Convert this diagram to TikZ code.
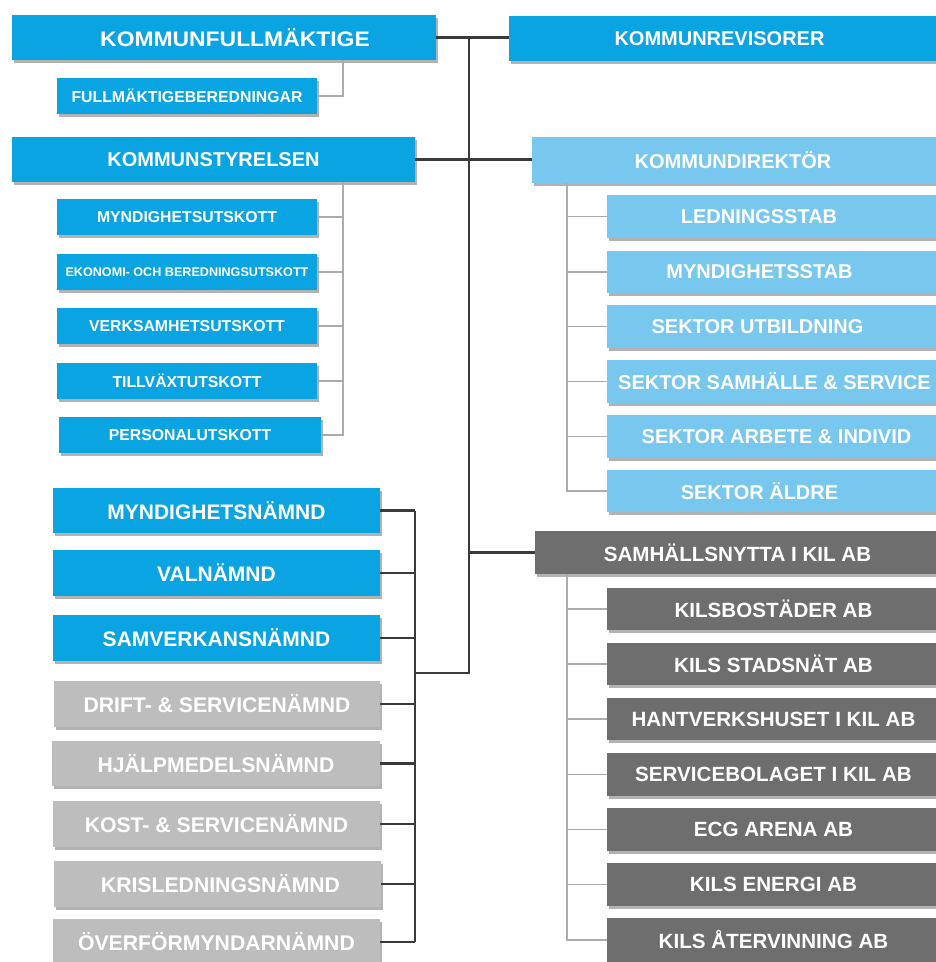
\documentclass[tikz,border=0pt]{standalone}
\usepackage{fontspec}
\setmainfont{Liberation Sans}
\usetikzlibrary{shadows}
\definecolor{cblue}{HTML}{0AA4E2}
\definecolor{clblue}{HTML}{78C7EE}
\definecolor{cdgray}{HTML}{6E6E6E}
\definecolor{clgray}{HTML}{BDBDBD}
\definecolor{cline}{HTML}{3A3A3A}
\definecolor{csub}{HTML}{ABABAB}
\tikzset{
  box/.style={inner sep=0pt, outer sep=0pt, text=white, align=center,
    font=\bfseries\fontsize{20}{20}\selectfont,
    drop shadow={shadow xshift=2pt, shadow yshift=-2.5pt, opacity=0.3, fill=black}},
  bblue/.style={box, fill=cblue},
  blight/.style={box, fill=clblue},
  bdark/.style={box, fill=cdgray, font=\bfseries\fontsize{20.6}{20.6}\selectfont},
  bgray/.style={box, fill=clgray, font=\bfseries\fontsize{21.2}{21.2}\selectfont},
  big/.style={font=\bfseries\fontsize{21}{21}\selectfont},
  small/.style={font=\bfseries\fontsize{15.8}{15.8}\selectfont},
  tiny/.style={font=\bfseries\fontsize{12.6}{12.6}\selectfont},
  mainline/.style={draw=cline, line width=2.4pt},
  subline/.style={draw=csub, line width=1.6pt},
}
% shift text left (#1 negative) or right (#1 positive) by half of |#1|
\newcommand{\tl}[2]{#2\hspace*{#1pt}}
\newcommand{\tr}[2]{\hspace*{#1pt}#2}
\newcommand{\bx}[7]{\node[#2, minimum width={#5-#3}, minimum height={#6-#4}] (#1) at ({(#3+#5)/2},{(#4+#6)/2}) {#7};}
\begin{document}
\begin{tikzpicture}[x=1pt,y=-1pt]
\useasboundingbox[fill=white] (0,0) rectangle (936,962);
% coordinates for trunks
\coordinate (trk) at (469,0);
\coordinate (lk) at (343,0);
\coordinate (rk) at (567,0);
\coordinate (nj) at (415,673);
% left column
\bx{kf}{bblue,big}{12}{15}{436}{60}{\tr{22}{\scalebox{1.09}[1]{KOMMUNFULLMÄKTIGE}}}
\bx{fb}{bblue,small}{57}{78}{317}{114}{FULLMÄKTIGEBEREDNINGAR}
\bx{ks}{bblue}{12}{137}{415}{182}{KOMMUNSTYRELSEN}
\bx{mu}{bblue,small}{57}{199}{317}{235}{MYNDIGHETSUTSKOTT}
\bx{eb}{bblue,tiny}{57}{254}{317}{290}{EKONOMI- OCH BEREDNINGSUTSKOTT}
\bx{vu}{bblue,small}{57}{308}{317}{344}{VERKSAMHETSUTSKOTT}
\bx{tu}{bblue,small}{57}{363}{317}{399}{TILLVÄXTUTSKOTT}
\bx{pu}{bblue,small}{59}{417}{321}{453}{PERSONALUTSKOTT}
\bx{mn}{bblue,big}{53}{488}{380}{533}{MYNDIGHETSNÄMND}
\bx{vn}{bblue,big}{53}{550}{380}{596}{VALNÄMND}
\bx{sv}{bblue,big}{53}{615}{380}{661}{SAMVERKANSNÄMND}
\bx{ds}{bgray}{54}{681}{380}{727}{DRIFT- \& SERVICENÄMND}
\bx{hm}{bgray}{52}{741}{380}{786}{HJÄLPMEDELSNÄMND}
\bx{kost}{bgray}{53}{801}{380}{847}{KOST- \& SERVICENÄMND}
\bx{kl}{bgray}{54}{861}{381}{907}{\tr{6}{KRISLEDNINGSNÄMND}}
\bx{ov}{bgray}{53}{919}{380}{965}{ÖVERFÖRMYNDARNÄMND}
% right column
\bx{kr}{bblue}{509}{16}{940}{61}{\tl{10}{KOMMUNREVISORER}}
\bx{kd}{blight}{532}{137}{940}{183}{\tl{6}{KOMMUNDIREKTÖR}}
\bx{ls}{blight}{607}{195}{940}{238}{\tl{29}{LEDNINGSSTAB}}
\bx{ms}{blight}{607}{251}{940}{293}{\tl{28}{MYNDIGHETSSTAB}}
\bx{su}{blight}{607}{305}{940}{348}{\tl{32}{SEKTOR UTBILDNING}}
\bx{ss}{blight}{607}{360}{940}{403}{\tr{2}{SEKTOR SAMHÄLLE \& SERVICE}}
\bx{sa}{blight}{607}{415}{940}{458}{\tr{6}{SEKTOR ARBETE \& INDIVID}}
\bx{sae}{blight}{607}{470}{940}{512}{\tl{28}{SEKTOR ÄLDRE}}
\bx{sn}{bdark}{535}{531}{940}{574}{SAMHÄLLSNYTTA I KIL AB}
\bx{kb}{bdark}{607}{588}{940}{630}{KILSBOSTÄDER AB}
\bx{ksn}{bdark}{607}{643}{940}{685}{KILS STADSNÄT AB}
\bx{hk}{bdark}{607}{698}{940}{740}{HANTVERKSHUSET I KIL AB}
\bx{sb}{bdark}{607}{753}{940}{796}{SERVICEBOLAGET I KIL AB}
\bx{ecg}{bdark}{607}{808}{940}{851}{ECG ARENA AB}
\bx{ke}{bdark}{607}{863}{940}{906}{KILS ENERGI AB}
\bx{kaa}{bdark}{607}{918}{940}{962}{KILS ÅTERVINNING AB}
% main connectors
\draw[mainline] (kf.east) -- (kf.east -| kr.west);
\draw[mainline] (ks.east) -- (ks.east -| kd.west);
\draw[mainline] (trk |- kf.east) -- (trk |- nj) -- (nj);
\draw[mainline] (trk |- sn.west) -- (sn.west);
\draw[mainline] (nj |- mn.east) -- (nj |- ov.east);
\foreach \n in {mn,vn,sv,ds,hm,kost,kl,ov}{
  \draw[mainline] (\n.east) -- (nj |- \n.east);
}
% sub connectors left
\draw[subline] (lk |- kf.south) |- (fb.east);
\draw[subline] (lk |- ks.south) |- (pu.east);
\foreach \n in {mu,eb,vu,tu}{
  \draw[subline] (\n.east) -- (lk |- \n.east);
}
% sub connectors right
\draw[subline] (rk |- kd.south) |- (sae.west);
\foreach \n in {ls,ms,su,ss,sa}{
  \draw[subline] (\n.west) -- (rk |- \n.west);
}
\draw[subline] (rk |- sn.south) |- (kaa.west);
\foreach \n in {kb,ksn,hk,sb,ecg,ke}{
  \draw[subline] (\n.west) -- (rk |- \n.west);
}
\end{tikzpicture}
\end{document}
